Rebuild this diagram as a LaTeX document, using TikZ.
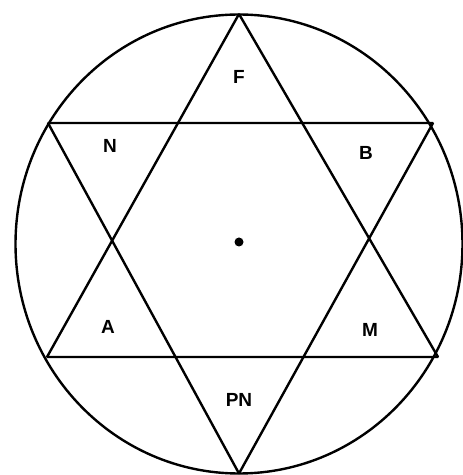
\documentclass[tikz,border=0pt]{standalone}
\usepackage{fontspec}
\setmainfont{Liberation Sans}
\begin{document}
\begin{tikzpicture}[x=1pt,y=1pt,
  edge/.style={line width=2.4pt,line join=bevel},
  lbl/.style={font=\fontsize{19}{19}\selectfont\bfseries,inner sep=0pt}]
\useasboundingbox (0,0) rectangle (463,475);
\coordinate (T) at (239,461);
\coordinate (Bo) at (239,1.5);
\coordinate (UL) at (48,352);
\coordinate (UR) at (433,352);
\coordinate (LL) at (47,118);
\coordinate (LR) at (438,118);
\draw[edge] (239,231) ellipse [x radius=223.5, y radius=229.5];
\draw[edge] (T) -- (LL) -- (LR) -- cycle;
\draw[edge] (Bo) -- (UL) -- (UR) -- cycle;
\fill (239,233) circle (4.5);
\node[lbl] (F) at (239,398) {F};
\node[lbl] (N) at (110,329) {N};
\node[lbl] (B) at (366,322) {B};
\node[lbl] (A) at (108,148) {A};
\node[lbl] (M) at (370,145) {M};
\node[lbl] (PN) at (239,75) {PN};
\end{tikzpicture}
\end{document}
